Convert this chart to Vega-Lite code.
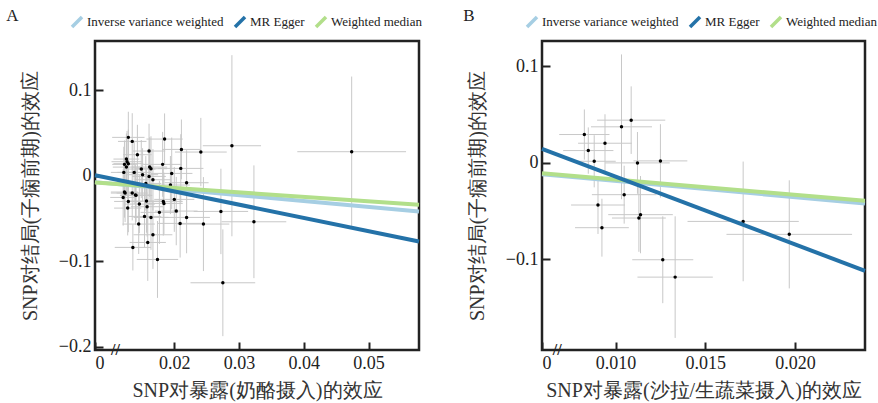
{
  "$schema": "https://vega.github.io/schema/vega-lite/v6.json",
  "background": "white",
  "padding": {"left": 5, "top": 5, "right": 5, "bottom": 2},
  "spacing": 33,
  "config": {
    "font": "Liberation Serif",
    "view": {"stroke": "#222", "strokeWidth": 2.5},
    "axis": {
      "grid": false, "domain": false,
      "labelFont": "Liberation Serif", "labelFontSize": 18, "labelColor": "#222",
      "titleFont": "Liberation Serif", "titleFontSize": 20, "titleFontWeight": "normal", "titleColor": "#333",
      "tickColor": "#222", "tickWidth": 2, "tickSize": -8, "labelPadding": 12
    },
    "axisY": {"titlePadding": 18},
    "axisX": {"titlePadding": 8},
    "legend": {
      "labelFont": "Liberation Serif", "labelFontSize": 13, "labelColor": "#222"
    },
    "title": {"font": "Liberation Serif", "fontSize": 17, "fontWeight": "normal", "color": "#222"}
  },
  "datasets": {
    "ptsA": [
      {"x":0.0129,"y":0.0449,"xlo":0.0104,"xhi":0.0154,"ylo":0.0149,"yhi":0.0749},
      {"x":0.0135,"y":0.0402,"xlo":0.0113,"xhi":0.0157,"ylo":0.0072,"yhi":0.0732},
      {"x":0.0185,"y":0.0429,"xlo":0.0157,"xhi":0.0213,"ylo":0.0129,"yhi":0.0729},
      {"x":0.0211,"y":0.0308,"xlo":0.0181,"xhi":0.0241,"ylo":-0.0042,"yhi":0.0658},
      {"x":0.0241,"y":0.0277,"xlo":0.0201,"xhi":0.0281,"ylo":-0.0123,"yhi":0.0677},
      {"x":0.0289,"y":0.0351,"xlo":0.0244,"xhi":0.0334,"ylo":-0.0709,"yhi":0.1411},
      {"x":0.0474,"y":0.0281,"xlo":0.0390,"xhi":0.0558,"ylo":-0.0599,"yhi":0.1161},
      {"x":0.0161,"y":0.0289,"xlo":0.0136,"xhi":0.0186,"ylo":-0.0031,"yhi":0.0609},
      {"x":0.0143,"y":0.0246,"xlo":0.0121,"xhi":0.0165,"ylo":-0.0104,"yhi":0.0596},
      {"x":0.0126,"y":0.0195,"xlo":0.0106,"xhi":0.0146,"ylo":-0.0105,"yhi":0.0495},
      {"x":0.0127,"y":0.0164,"xlo":0.0103,"xhi":0.0151,"ylo":-0.0196,"yhi":0.0524},
      {"x":0.0123,"y":0.0133,"xlo":0.0104,"xhi":0.0142,"ylo":-0.0147,"yhi":0.0413},
      {"x":0.0129,"y":0.0141,"xlo":0.0106,"xhi":0.0152,"ylo":-0.0259,"yhi":0.0541},
      {"x":0.0126,"y":0.0101,"xlo":0.0105,"xhi":0.0147,"ylo":-0.0229,"yhi":0.0431},
      {"x":0.0182,"y":0.0133,"xlo":0.0152,"xhi":0.0212,"ylo":-0.0247,"yhi":0.0513},
      {"x":0.0196,"y":0.0027,"xlo":0.0164,"xhi":0.0228,"ylo":-0.0393,"yhi":0.0447},
      {"x":0.0210,"y":0.0086,"xlo":0.0175,"xhi":0.0245,"ylo":-0.0314,"yhi":0.0486},
      {"x":0.0149,"y":0.0078,"xlo":0.0127,"xhi":0.0171,"ylo":-0.0262,"yhi":0.0418},
      {"x":0.0138,"y":0.0039,"xlo":0.0112,"xhi":0.0164,"ylo":-0.0331,"yhi":0.0409},
      {"x":0.0151,"y":0.0012,"xlo":0.0127,"xhi":0.0175,"ylo":-0.0298,"yhi":0.0322},
      {"x":0.0162,"y":0.0101,"xlo":0.0135,"xhi":0.0189,"ylo":-0.0249,"yhi":0.0451},
      {"x":0.0164,"y":0.0082,"xlo":0.0139,"xhi":0.0189,"ylo":-0.0298,"yhi":0.0462},
      {"x":0.0161,"y":-0.0008,"xlo":0.0135,"xhi":0.0187,"ylo":-0.0338,"yhi":0.0322},
      {"x":0.0167,"y":-0.0047,"xlo":0.0139,"xhi":0.0195,"ylo":-0.0407,"yhi":0.0313},
      {"x":0.0122,"y":0.0039,"xlo":0.0102,"xhi":0.0142,"ylo":-0.0261,"yhi":0.0339},
      {"x":0.0156,"y":-0.0090,"xlo":0.0132,"xhi":0.0180,"ylo":-0.0410,"yhi":0.0230},
      {"x":0.0194,"y":-0.0109,"xlo":0.0164,"xhi":0.0224,"ylo":-0.0449,"yhi":0.0231},
      {"x":0.0219,"y":-0.0082,"xlo":0.0185,"xhi":0.0253,"ylo":-0.0462,"yhi":0.0298},
      {"x":0.0123,"y":-0.0191,"xlo":0.0102,"xhi":0.0144,"ylo":-0.0491,"yhi":0.0109},
      {"x":0.0124,"y":-0.0203,"xlo":0.0102,"xhi":0.0146,"ylo":-0.0543,"yhi":0.0137},
      {"x":0.0135,"y":-0.0203,"xlo":0.0111,"xhi":0.0159,"ylo":-0.0523,"yhi":0.0117},
      {"x":0.0140,"y":-0.0226,"xlo":0.0117,"xhi":0.0163,"ylo":-0.0576,"yhi":0.0124},
      {"x":0.0141,"y":-0.0230,"xlo":0.0116,"xhi":0.0166,"ylo":-0.0540,"yhi":0.0080},
      {"x":0.0121,"y":-0.0254,"xlo":0.0101,"xhi":0.0141,"ylo":-0.0584,"yhi":0.0076},
      {"x":0.0129,"y":-0.0301,"xlo":0.0107,"xhi":0.0151,"ylo":-0.0661,"yhi":0.0059},
      {"x":0.0146,"y":-0.0332,"xlo":0.0122,"xhi":0.0170,"ylo":-0.0672,"yhi":0.0008},
      {"x":0.0157,"y":-0.0297,"xlo":0.0131,"xhi":0.0183,"ylo":-0.0667,"yhi":0.0073},
      {"x":0.0158,"y":-0.0363,"xlo":0.0133,"xhi":0.0183,"ylo":-0.0713,"yhi":-0.0013},
      {"x":0.0128,"y":-0.0379,"xlo":0.0107,"xhi":0.0149,"ylo":-0.0699,"yhi":-0.0059},
      {"x":0.0183,"y":-0.0301,"xlo":0.0153,"xhi":0.0213,"ylo":-0.0701,"yhi":0.0099},
      {"x":0.0184,"y":-0.0324,"xlo":0.0155,"xhi":0.0213,"ylo":-0.0684,"yhi":0.0036},
      {"x":0.0200,"y":-0.0277,"xlo":0.0169,"xhi":0.0231,"ylo":-0.0657,"yhi":0.0103},
      {"x":0.0203,"y":-0.0414,"xlo":0.0170,"xhi":0.0236,"ylo":-0.0814,"yhi":-0.0014},
      {"x":0.0177,"y":-0.0429,"xlo":0.0148,"xhi":0.0206,"ylo":-0.0799,"yhi":-0.0059},
      {"x":0.0154,"y":-0.0476,"xlo":0.0128,"xhi":0.0180,"ylo":-0.0836,"yhi":-0.0116},
      {"x":0.0164,"y":-0.0488,"xlo":0.0137,"xhi":0.0191,"ylo":-0.0868,"yhi":-0.0108},
      {"x":0.0219,"y":-0.0488,"xlo":0.0183,"xhi":0.0255,"ylo":-0.0908,"yhi":-0.0068},
      {"x":0.0209,"y":-0.0558,"xlo":0.0175,"xhi":0.0243,"ylo":-0.0958,"yhi":-0.0158},
      {"x":0.0245,"y":-0.0566,"xlo":0.0205,"xhi":0.0285,"ylo":-0.1116,"yhi":-0.0016},
      {"x":0.0272,"y":-0.0418,"xlo":0.0230,"xhi":0.0314,"ylo":-0.0918,"yhi":0.0082},
      {"x":0.0323,"y":-0.0539,"xlo":0.0273,"xhi":0.0373,"ylo":-0.1199,"yhi":0.0121},
      {"x":0.0145,"y":-0.0566,"xlo":0.0120,"xhi":0.0170,"ylo":-0.0916,"yhi":-0.0216},
      {"x":0.0167,"y":-0.0691,"xlo":0.0137,"xhi":0.0197,"ylo":-0.1091,"yhi":-0.0291},
      {"x":0.0159,"y":-0.0781,"xlo":0.0131,"xhi":0.0187,"ylo":-0.1231,"yhi":-0.0331},
      {"x":0.0136,"y":-0.0839,"xlo":0.0108,"xhi":0.0164,"ylo":-0.1109,"yhi":-0.0569},
      {"x":0.0174,"y":-0.0980,"xlo":0.0142,"xhi":0.0206,"ylo":-0.1430,"yhi":-0.0530},
      {"x":0.0275,"y":-0.1253,"xlo":0.0225,"xhi":0.0325,"ylo":-0.1878,"yhi":-0.0628}
    ],
    "linesA": [
      {"method":"Inverse variance weighted","x":0.00775,"y":-0.0075},
      {"method":"Inverse variance weighted","x":0.0578,"y":-0.0418},
      {"method":"Weighted median","x":0.00775,"y":-0.0080},
      {"method":"Weighted median","x":0.0578,"y":-0.0340},
      {"method":"MR Egger","x":0.00775,"y":0.0005},
      {"method":"MR Egger","x":0.0578,"y":-0.0769}
    ],
    "brkA": [{"x":0.0109,"y":-0.204,"t":"//"}],
    "ptsB": [
      {"x":0.00826,"y":0.0294,"xlo":0.00686,"xhi":0.00966,"ylo":0.0034,"yhi":0.0554},
      {"x":0.00848,"y":0.0128,"xlo":0.00708,"xhi":0.00988,"ylo":-0.0112,"yhi":0.0368},
      {"x":0.00881,"y":0.0017,"xlo":0.00761,"xhi":0.01001,"ylo":-0.0253,"yhi":0.0287},
      {"x":0.00941,"y":0.0204,"xlo":0.00791,"xhi":0.01091,"ylo":-0.0096,"yhi":0.0504},
      {"x":0.01033,"y":0.0374,"xlo":0.00863,"xhi":0.01203,"ylo":-0.0376,"yhi":0.1124},
      {"x":0.01087,"y":0.0443,"xlo":0.00897,"xhi":0.01277,"ylo":0.0093,"yhi":0.0793},
      {"x":0.01122,"y":0.0000,"xlo":0.00942,"xhi":0.01302,"ylo":-0.0320,"yhi":0.0320},
      {"x":0.0125,"y":0.0021,"xlo":0.0110,"xhi":0.0140,"ylo":-0.0359,"yhi":0.0401},
      {"x":0.01048,"y":-0.0329,"xlo":0.00868,"xhi":0.01228,"ylo":-0.0629,"yhi":-0.0029},
      {"x":0.00902,"y":-0.0436,"xlo":0.00752,"xhi":0.01052,"ylo":-0.0736,"yhi":-0.0136},
      {"x":0.01139,"y":-0.0536,"xlo":0.00959,"xhi":0.01319,"ylo":-0.0936,"yhi":-0.0136},
      {"x":0.0113,"y":-0.0571,"xlo":0.0098,"xhi":0.0128,"ylo":-0.0921,"yhi":-0.0221},
      {"x":0.00924,"y":-0.0671,"xlo":0.00774,"xhi":0.01074,"ylo":-0.0971,"yhi":-0.0371},
      {"x":0.01263,"y":-0.1003,"xlo":0.01093,"xhi":0.01433,"ylo":-0.1453,"yhi":-0.0553},
      {"x":0.01332,"y":-0.1183,"xlo":0.01122,"xhi":0.01542,"ylo":-0.1813,"yhi":-0.0553},
      {"x":0.01711,"y":-0.0606,"xlo":0.01401,"xhi":0.02021,"ylo":-0.1226,"yhi":0.0014},
      {"x":0.01968,"y":-0.0740,"xlo":0.01618,"xhi":0.02318,"ylo":-0.1300,"yhi":-0.0180}
    ],
    "linesB": [
      {"method":"Inverse variance weighted","x":0.0059,"y":-0.0118},
      {"method":"Inverse variance weighted","x":0.0239,"y":-0.0420},
      {"method":"Weighted median","x":0.0059,"y":-0.0108},
      {"method":"Weighted median","x":0.0239,"y":-0.0392},
      {"method":"MR Egger","x":0.0059,"y":0.0145},
      {"method":"MR Egger","x":0.0239,"y":-0.1118}
    ],
    "brkB": [{"x":0.00675,"y":-0.1938,"t":"//"}]
  },
  "resolve": {"scale": {"color": "independent", "x": "independent", "y": "independent"}, "legend": {"color": "independent"}},
  "hconcat": [
    {
      "title": {"text": "A", "anchor": "start", "frame": "bounds", "offset": -10, "dx": -14},
      "width": 324, "height": 309,
      "layer": [
        {
          "data": {"name": "ptsA"},
          "mark": {"type": "rule", "color": "#c8c8c8", "strokeWidth": 1, "clip": true},
          "encoding": {
            "x": {"field": "xlo", "type": "quantitative", "scale": {"domain": [0.00775, 0.0578], "nice": false, "zero": false},
              "axis": {"title": "SNP对暴露(奶酪摄入)的效应", "values": [0.00775, 0.02, 0.03, 0.04, 0.05], "labelExpr": "datum.value < 0.01 ? '0' : format(datum.value, '.2f')", "labelFont": "Liberation Serif", "titleFont": "Liberation Serif"}},
            "x2": {"field": "xhi"},
            "y": {"field": "y", "type": "quantitative", "scale": {"domain": [-0.204, 0.1577], "nice": false, "zero": false},
              "axis": {"title": "SNP对结局(子痫前期)的效应", "values": [-0.2, -0.1, 0, 0.1], "format": ".1~f", "labelFont": "Liberation Serif", "titleFont": "Liberation Serif"}}
          }
        },
        {
          "data": {"name": "ptsA"},
          "mark": {"type": "rule", "color": "#c8c8c8", "strokeWidth": 1, "clip": true},
          "encoding": {
            "x": {"field": "x", "type": "quantitative"},
            "y": {"field": "ylo", "type": "quantitative"},
            "y2": {"field": "yhi"}
          }
        },
        {
          "data": {"name": "ptsA"},
          "mark": {"type": "point", "filled": true, "color": "#000", "size": 12, "opacity": 1},
          "encoding": {
            "x": {"field": "x", "type": "quantitative"},
            "y": {"field": "y", "type": "quantitative"}
          }
        },
        {
          "data": {"name": "linesA"},
          "mark": {"type": "line", "strokeWidth": 4},
          "encoding": {
            "x": {"field": "x", "type": "quantitative"},
            "y": {"field": "y", "type": "quantitative"},
            "color": {"field": "method", "type": "nominal",
              "scale": {"domain": ["Inverse variance weighted", "MR Egger", "Weighted median"], "range": ["#a6cee3", "#2472a8", "#b2df8a"]},
              "legend": {"orient": "none", "legendX": -25, "legendY": -26, "direction": "horizontal", "title": null,
                "symbolType": "M-1,1L1,-1", "symbolStrokeWidth": 3.5, "symbolSize": 100, "columnPadding": 4, "labelOffset": 3}}
          }
        },
        {
          "data": {"name": "brkA"},
          "mark": {"type": "text", "fontSize": 16, "fontWeight": "bold", "color": "#222", "baseline": "middle", "align": "center", "font": "Liberation Serif"},
          "encoding": {
            "x": {"field": "x", "type": "quantitative"},
            "y": {"field": "y", "type": "quantitative"},
            "text": {"field": "t"}
          }
        }
      ]
    },
    {
      "title": {"text": "B", "anchor": "start", "frame": "bounds", "offset": -10, "dx": -4},
      "width": 323, "height": 309,
      "layer": [
        {
          "data": {"name": "ptsB"},
          "mark": {"type": "rule", "color": "#c8c8c8", "strokeWidth": 1, "clip": true},
          "encoding": {
            "x": {"field": "xlo", "type": "quantitative", "scale": {"domain": [0.0059, 0.0239], "nice": false, "zero": false},
              "axis": {"title": "SNP对暴露(沙拉/生蔬菜摄入)的效应", "values": [0.0059, 0.01, 0.015, 0.02], "labelExpr": "datum.value < 0.008 ? '0' : format(datum.value, '.3f')", "labelFont": "Liberation Serif", "titleFont": "Liberation Serif"}},
            "x2": {"field": "xhi"},
            "y": {"field": "y", "type": "quantitative", "scale": {"domain": [-0.1938, 0.1263], "nice": false, "zero": false},
              "axis": {"title": "SNP对结局(子痫前期)的效应", "values": [-0.1, 0, 0.1], "format": ".1~f", "labelFont": "Liberation Serif", "titleFont": "Liberation Serif"}}
          }
        },
        {
          "data": {"name": "ptsB"},
          "mark": {"type": "rule", "color": "#c8c8c8", "strokeWidth": 1, "clip": true},
          "encoding": {
            "x": {"field": "x", "type": "quantitative"},
            "y": {"field": "ylo", "type": "quantitative"},
            "y2": {"field": "yhi"}
          }
        },
        {
          "data": {"name": "ptsB"},
          "mark": {"type": "point", "filled": true, "color": "#000", "size": 12, "opacity": 1},
          "encoding": {
            "x": {"field": "x", "type": "quantitative"},
            "y": {"field": "y", "type": "quantitative"}
          }
        },
        {
          "data": {"name": "linesB"},
          "mark": {"type": "line", "strokeWidth": 4},
          "encoding": {
            "x": {"field": "x", "type": "quantitative"},
            "y": {"field": "y", "type": "quantitative"},
            "color": {"field": "method", "type": "nominal",
              "scale": {"domain": ["Inverse variance weighted", "MR Egger", "Weighted median"], "range": ["#a6cee3", "#2472a8", "#b2df8a"]},
              "legend": {"orient": "none", "legendX": -17, "legendY": -26, "direction": "horizontal", "title": null,
                "symbolType": "M-1,1L1,-1", "symbolStrokeWidth": 3.5, "symbolSize": 100, "columnPadding": 4, "labelOffset": 3}}
          }
        },
        {
          "data": {"name": "brkB"},
          "mark": {"type": "text", "fontSize": 16, "fontWeight": "bold", "color": "#222", "baseline": "middle", "align": "center", "font": "Liberation Serif"},
          "encoding": {
            "x": {"field": "x", "type": "quantitative"},
            "y": {"field": "y", "type": "quantitative"},
            "text": {"field": "t"}
          }
        }
      ]
    }
  ]
}
